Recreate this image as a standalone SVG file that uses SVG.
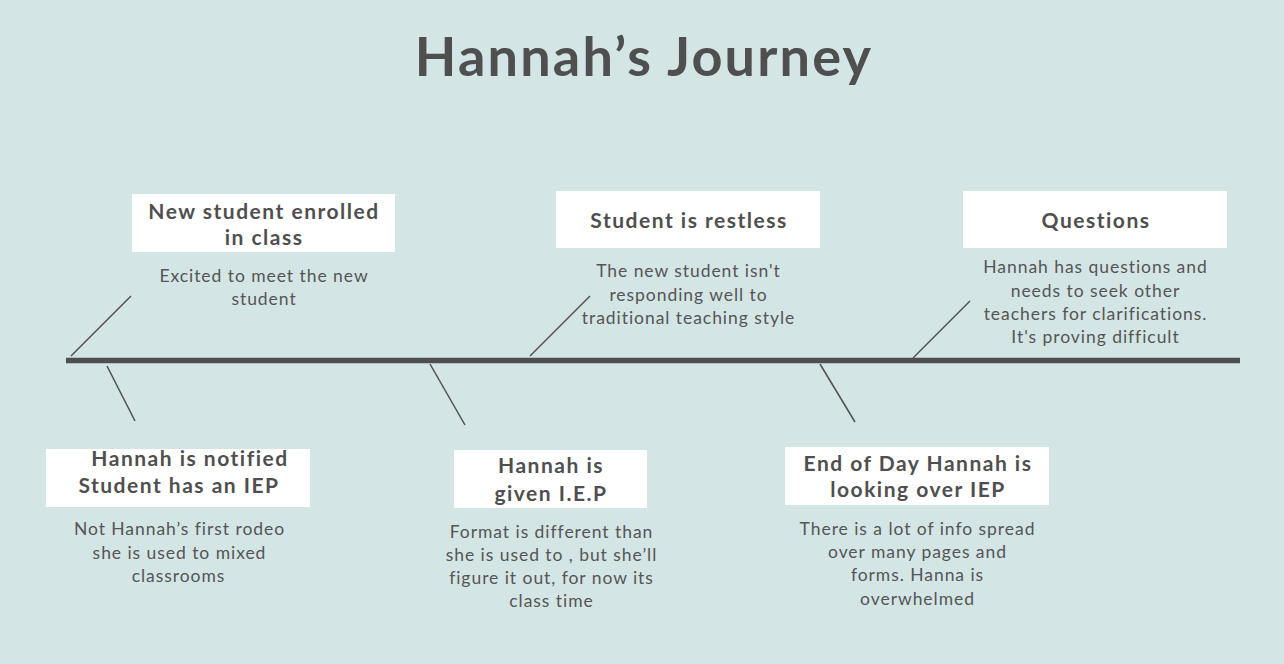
<svg xmlns="http://www.w3.org/2000/svg" width="1284" height="664" viewBox="0 0 1284 664">
<style>
.bg{fill:#d4e5e5}
.box{fill:#ffffff}
.ttl{font-family:Lato,"Open Sans","Liberation Sans",sans-serif;font-weight:700;fill:#4f4f4f;text-anchor:middle;letter-spacing:2.2px}
.hd{font-family:Lato,"Open Sans","Liberation Sans",sans-serif;font-weight:700;font-size:21px;fill:#4f4f4f;text-anchor:middle;letter-spacing:1.5px}
.ds{font-family:Lato,"Open Sans","Liberation Sans",sans-serif;font-size:17.5px;fill:#555555;text-anchor:middle;letter-spacing:0.95px}
.spine{stroke:#4f4f4f;stroke-width:5.5}
.bone{stroke:#4f4f4f;stroke-width:1.5;fill:none}
</style>
<rect class="bg" x="0" y="0" width="1284" height="664"/>
<text class="ttl" x="644" y="76" font-size="54">Hannah’s Journey</text>
<g id="connectors">
<line class="spine" x1="66" y1="360.5" x2="1240" y2="360.5"/>
<line class="bone" x1="71" y1="356" x2="131" y2="296"/>
<line class="bone" x1="107" y1="366" x2="135" y2="421"/>
<line class="bone" x1="530" y1="356" x2="590" y2="296"/>
<line class="bone" x1="430" y1="364" x2="465" y2="425"/>
<line class="bone" x1="820" y1="364" x2="855" y2="422"/>
<line class="bone" x1="913" y1="358" x2="970" y2="301"/>
</g>
<g id="node-new-student">
<rect class="box" x="132" y="194" width="263" height="58"/>
<text class="hd" x="264" y="219">New student enrolled</text>
<text class="hd" x="264" y="245">in class</text>
<text class="ds" x="264" y="282">Excited to meet the new</text>
<text class="ds" x="264" y="305">student</text>
</g>
<g id="node-restless">
<rect class="box" x="556" y="191" width="264" height="57"/>
<text class="hd" x="689" y="228">Student is restless</text>
<text class="ds" x="688.5" y="277">The new student isn't</text>
<text class="ds" x="688.5" y="301">responding well to</text>
<text class="ds" x="688.5" y="324">traditional teaching style</text>
</g>
<g id="node-questions">
<rect class="box" x="963" y="191" width="264" height="57"/>
<text class="hd" x="1096" y="228">Questions</text>
<text class="ds" x="1095.5" y="273">Hannah has questions and</text>
<text class="ds" x="1095.5" y="297">needs to seek other</text>
<text class="ds" x="1095.5" y="320">teachers for clarifications.</text>
<text class="ds" x="1095.5" y="343">It's proving difficult</text>
</g>
<g id="node-notified">
<rect class="box" x="46" y="449" width="264" height="58"/>
<text class="hd" x="190" y="466">Hannah is notified</text>
<text class="hd" x="179" y="493">Student has an IEP</text>
<text class="ds" x="179.5" y="535">Not Hannah’s first rodeo</text>
<text class="ds" x="179.5" y="559">she is used to mixed</text>
<text class="ds" x="178.5" y="582">classrooms</text>
</g>
<g id="node-given-iep">
<rect class="box" x="454" y="450" width="193" height="58"/>
<text class="hd" x="551" y="473">Hannah is</text>
<text class="hd" x="551" y="501">given I.E.P</text>
<text class="ds" x="551.5" y="538">Format is different than</text>
<text class="ds" x="551.5" y="561">she is used to , but she’ll</text>
<text class="ds" x="551.5" y="584">figure it out, for now its</text>
<text class="ds" x="551.5" y="607">class time</text>
</g>
<g id="node-end-of-day">
<rect class="box" x="785" y="447" width="264" height="58"/>
<text class="hd" x="918" y="471">End of Day Hannah is</text>
<text class="hd" x="918" y="497">looking over IEP</text>
<text class="ds" x="917.5" y="535">There is a lot of info spread</text>
<text class="ds" x="917.5" y="558">over many pages and</text>
<text class="ds" x="917.5" y="581">forms. Hanna is</text>
<text class="ds" x="917.5" y="605">overwhelmed</text>
</g>
</svg>
